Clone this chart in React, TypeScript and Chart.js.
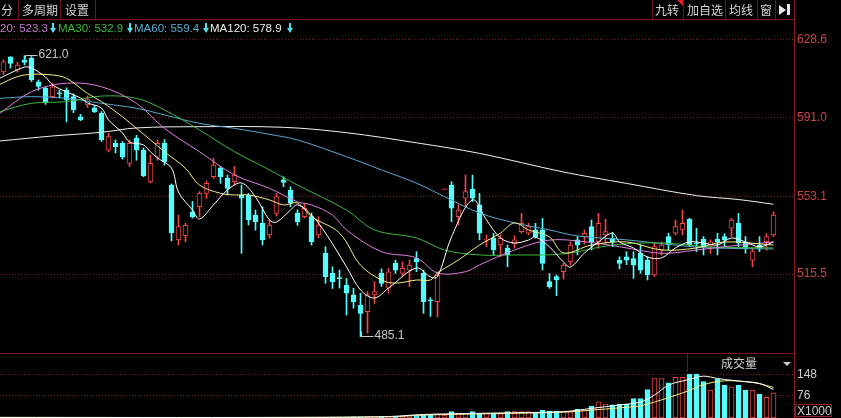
import React, { useEffect, useRef } from "react";
import { Chart, registerables } from "chart.js";
Chart.register(...registerables);

// ---------- data ----------
const openPrices = [
  613.2, 620.5, 614.1, 619.0, 619.8, 608.4, 605.4, 601.2, 603.0, 604.4,
  601.2, 591.5, 597.2, 595.8, 593.2, 575.4, 578.6, 578.7, 569.0, 581.2,
  575.4, 560.0, 572.0, 578.7, 558.5, 532.0, 534.0, 545.6, 548.1, 554.5,
  562.5, 566.6, 561.7, 560.1, 553.7, 553.7, 544.0, 540.0, 534.4, 544.8,
  561.0, 556.1, 544.8, 543.2, 543.2, 534.4, 525.5, 515.8, 513.8, 510.2,
  505.4, 500.5, 497.3, 505.4, 515.8, 508.6, 520.6, 515.8, 517.4, 523.0,
  515.8, 503.0, 502.1, 556.2, 558.5, 543.2, 552.1, 556.4, 548.9, 531.8,
  532.8, 529.5, 527.9, 530.0, 536.0, 535.2, 536.8, 536.8, 511.8, 514.2,
  516.6, 521.4, 532.0, 533.6, 538.4, 531.1, 534.4, 532.8, 522.2, 523.8,
  523.0, 525.5, 522.2, 515.0, 527.1, 533.6, 535.2, 536.8, 541.9, 530.4,
  532.3, 529.5, 532.3, 533.6, 537.6, 540.0, 531.1, 522.2, 529.5, 531.1,
  534.4,
];
const highPrices = [
  619.0, 620.5, 617.8, 621.0, 620.6, 609.3, 606.0, 607.8, 604.4, 605.5,
  602.6, 592.7, 601.5, 597.0, 594.0, 583.5, 580.3, 579.5, 580.3, 582.5,
  576.5, 573.0, 580.3, 580.5, 559.0, 544.0, 540.0, 550.5, 555.3, 560.5,
  571.4, 567.5, 563.3, 567.5, 558.5, 554.5, 546.4, 548.0, 541.6, 554.5,
  562.5, 557.7, 546.5, 549.7, 545.0, 543.2, 528.7, 519.0, 517.4, 513.4,
  508.6, 506.2, 507.0, 511.8, 518.0, 518.2, 522.2, 521.4, 522.2, 526.3,
  517.4, 504.0, 516.6, 556.6, 560.1, 549.0, 563.3, 563.3, 554.5, 534.4,
  535.2, 534.4, 529.5, 534.0, 544.8, 540.0, 540.0, 542.4, 515.8, 515.0,
  520.6, 531.0, 533.6, 536.8, 541.6, 544.8, 542.0, 535.5, 523.8, 526.3,
  526.3, 529.5, 523.8, 530.4, 531.1, 535.2, 541.6, 546.4, 542.5, 537.6,
  533.6, 532.0, 535.2, 535.0, 542.4, 544.8, 533.6, 527.9, 533.6, 535.0,
  545.6,
];
const lowPrices = [
  612.0, 615.0, 613.0, 616.5, 608.5, 604.4, 597.5, 600.5, 600.6, 589.0,
  593.5, 589.6, 596.0, 593.5, 579.5, 574.5, 574.0, 571.0, 567.4, 570.5,
  562.5, 559.5, 570.5, 568.2, 531.5, 529.5, 531.0, 542.5, 543.2, 552.0,
  561.7, 559.3, 553.7, 558.5, 525.5, 539.2, 536.7, 529.5, 532.8, 543.5,
  557.7, 548.0, 539.0, 542.5, 529.5, 533.0, 511.0, 508.5, 508.7, 495.7,
  499.0, 485.1, 487.0, 501.3, 509.5, 506.2, 515.8, 514.2, 509.4, 516.6,
  496.5, 495.0, 494.8, 556.2, 540.8, 539.2, 548.0, 550.5, 532.0, 528.7,
  524.7, 523.9, 519.0, 528.0, 535.2, 534.4, 532.8, 517.4, 508.6, 505.0,
  513.0, 519.8, 524.7, 530.0, 527.1, 527.9, 530.4, 528.7, 518.0, 520.0,
  513.4, 515.8, 512.6, 514.2, 524.7, 527.1, 534.4, 534.4, 528.7, 526.3,
  524.7, 525.5, 524.7, 528.7, 533.6, 528.7, 525.5, 519.0, 526.3, 527.0,
  533.6,
];
const closePrices = [
  618.1, 617.3, 616.5, 617.8, 609.3, 606.2, 598.2, 606.0, 602.6, 599.6,
  594.8, 590.0, 600.0, 594.0, 580.3, 581.9, 577.0, 572.0, 578.7, 575.4,
  563.0, 569.0, 578.7, 569.8, 535.3, 538.4, 539.0, 543.2, 554.5, 559.3,
  568.2, 562.5, 556.9, 563.3, 552.1, 541.6, 540.8, 532.0, 539.2, 552.9,
  559.8, 549.7, 540.8, 547.3, 531.1, 539.2, 514.2, 511.8, 513.2, 506.2,
  502.1, 496.5, 505.4, 507.0, 511.0, 516.6, 517.4, 518.2, 519.8, 521.4,
  502.1, 502.5, 514.9, 556.6, 547.3, 546.4, 555.3, 552.1, 535.2, 532.2,
  527.1, 532.8, 524.7, 532.0, 540.0, 538.4, 533.6, 520.6, 509.4, 512.6,
  519.8, 529.5, 529.5, 535.2, 531.1, 540.0, 536.0, 531.1, 520.6, 522.2,
  519.8, 517.4, 515.0, 528.7, 529.5, 529.5, 538.4, 540.0, 529.5, 530.0,
  528.7, 531.1, 531.1, 532.0, 541.6, 530.4, 527.9, 526.3, 527.9, 533.6,
  544.0,
];
const volumes = [
  1, 1, 1, 1, 2, 1, 1, 1, 1, 2,
  1, 1, 1, 1, 2, 1, 1, 2, 1, 1,
  2, 1, 1, 2, 2, 1, 1, 1, 2, 1,
  1, 2, 1, 1, 2, 2, 1, 2, 2, 1,
  2, 2, 2, 3, 2, 3, 2, 3, 3, 3,
  4, 4, 5, 4, 4, 5, 7, 6, 8, 7,
  10, 10, 14, 10, 22, 16, 16, 22, 14, 16,
  16, 14, 22, 22, 22, 22, 19, 27, 24, 24,
  22, 22, 30, 27, 41, 56, 48, 45, 48, 48,
  67, 67, 98, 136, 136, 121, 140, 140, 151, 151,
  125, 96, 133, 113, 107, 113, 96, 96, 82, 71,
  87,
];
const priceTickLabels = [628.6, 591.0, 553.1, 515.5];
const volumeTickLabels = [76, 148];

// moving average lines (candle index -> value)
const ma5X = [-0.5, 1, 3, 4, 6, 7, 9, 11, 12, 14, 15, 17, 18, 20, 21, 22, 24, 25, 27, 28, 30, 32, 34, 36, 38, 39, 41, 42, 44, 46, 49, 51, 53, 55, 59, 61, 62, 64, 67, 69, 71, 73, 75, 76, 78, 80, 81, 83, 85, 87, 88, 90, 92, 94, 96, 98, 100, 102, 104, 106, 108, 110];
const ma5Y = [610.2, 612.6, 615.5, 615.1, 610.7, 606.9, 603.5, 600.6, 598.2, 595.7, 590.0, 583.7, 579.3, 577.9, 574.5, 571.6, 566.7, 555.1, 546.4, 542.1, 548.9, 556.1, 559.5, 552.7, 541.6, 540.6, 546.4, 548.9, 544.0, 535.3, 519.0, 507.8, 503.9, 508.7, 518.4, 514.1, 514.1, 533.4, 551.3, 541.6, 532.9, 530.5, 531.9, 533.4, 528.6, 521.3, 518.9, 525.7, 531.0, 535.3, 531.0, 528.1, 523.7, 523.3, 528.1, 531.0, 530.5, 529.5, 532.9, 531.0, 528.6, 531.0];
const ma10X = [-0.5, 2, 4, 7, 9, 12, 14, 17, 19, 21, 23, 26, 28, 31, 33, 35, 38, 40, 42, 44, 48, 51, 54, 56, 59, 61, 62, 65, 68, 71, 73, 75, 78, 80, 84, 89, 94, 99, 103, 110];
const ma10Y = [607.2, 610.9, 612.0, 611.7, 610.1, 602.8, 598.8, 591.5, 585.9, 580.3, 574.6, 566.6, 558.5, 554.5, 553.7, 553.7, 551.3, 548.9, 549.8, 543.2, 535.3, 519.8, 512.6, 511.1, 512.6, 512.6, 516.0, 522.3, 529.5, 535.3, 540.2, 536.8, 533.4, 525.7, 529.5, 531.0, 527.1, 528.1, 531.0, 529.5];
const ma20X = [-0.5, 4, 9, 14, 19, 23, 28, 33, 38, 42, 44, 47, 49, 54, 59, 62, 66, 68, 73, 78, 83, 88, 94, 99, 103, 110];
const ma20Y = [593.2, 603.6, 607.7, 606.0, 598.0, 585.9, 574.6, 563.4, 556.9, 550.4, 548.9, 544.0, 536.8, 526.3, 523.3, 516.0, 516.6, 519.9, 527.1, 531.9, 531.1, 528.7, 525.5, 527.1, 528.7, 531.0];
const ma30X = [-0.5, 4, 9, 14, 19, 23, 28, 33, 38, 42, 49, 53, 59, 63, 68, 73, 80, 87, 94, 101, 110];
const ma30Y = [594.0, 598.0, 598.8, 601.5, 600.4, 594.8, 585.1, 574.6, 565.8, 558.5, 546.4, 536.8, 532.9, 527.1, 524.7, 524.7, 525.2, 529.5, 530.5, 528.6, 528.1];
const ma60X = [-0.5, 4, 9, 14, 19, 23, 28, 33, 38, 42, 49, 54, 59, 63, 68, 73, 78, 82, 89, 99, 105, 110];
const ma60Y = [600.4, 601.2, 600.4, 598.0, 595.6, 592.4, 588.3, 585.9, 583.0, 580.3, 572.2, 565.8, 559.4, 552.9, 545.0, 540.2, 536.8, 533.9, 532.0, 528.5, 527.8, 527.6];
const ma120X = [-0.5, 7, 14, 19, 28, 40, 49, 59, 68, 80, 89, 99, 105, 110];
const ma120Y = [579.8, 582.2, 584.0, 586.1, 586.7, 586.4, 583.8, 578.9, 573.8, 564.8, 559.3, 553.4, 551.5, 549.2];
const volMa5X = [-0.5, 40, 55, 60, 70, 80, 84, 88, 91, 93, 95, 98, 100, 102, 104, 106, 108, 110];
const volMa5Y = [2, 2, 5, 12, 17, 22, 33, 45, 55, 79, 113, 133, 144, 136, 130, 125, 119, 98];
const volMa10X = [-0.5, 40, 55, 60, 70, 80, 84, 88, 91, 93, 95, 98, 100, 103, 106, 108, 110];
const volMa10Y = [2, 2, 4, 10, 15, 20, 27, 35, 42, 55, 70, 95, 115, 128, 125, 118, 105];

// ---------- styling ----------
const RED = "#f04646";
const CYAN = "#54fcfc";
const X_MIN = -0.5;
const X_MAX = 112.9286;
const TICK_FONT = { size: 12, family: '"Liberation Sans", Arial, sans-serif' };
const candleIndex = openPrices.map((_, i) => i);
const isUp = candleIndex.map((i) => closePrices[i] >= openPrices[i]);

const pts = (xs: number[], ys: number[]) => xs.map((x, i) => ({ x, y: ys[i] }));

const lineDs = (label: string, xs: number[], ys: number[], color: string, order: number) => ({
  type: "line" as const,
  label,
  data: pts(xs, ys),
  borderColor: color,
  borderWidth: 1,
  pointRadius: 0,
  tension: 0.35,
  fill: false,
  order,
});

const extremesPlugin = {
  id: "extremes",
  afterDatasetsDraw(chart: any) {
    const { ctx, scales } = chart;
    const x = scales.x;
    const y = scales.y;
    let hi = 0;
    let lo = 0;
    highPrices.forEach((h, i) => { if (h > highPrices[hi]) hi = i; });
    lowPrices.forEach((l, i) => { if (l < lowPrices[lo]) lo = i; });
    ctx.save();
    ctx.strokeStyle = "#c8c8c8";
    ctx.fillStyle = "#c8c8c8";
    ctx.lineWidth = 1;
    ctx.font = '12px "Liberation Sans", Arial, sans-serif';
    ctx.textBaseline = "middle";
    const hx = Math.round(x.getPixelForValue(hi)) + 1.5;
    const hy = Math.round(y.getPixelForValue(highPrices[hi])) - 0.5;
    ctx.beginPath();
    ctx.moveTo(hx, hy + 3);
    ctx.lineTo(hx, hy);
    ctx.lineTo(hx + 12, hy);
    ctx.stroke();
    ctx.fillText(highPrices[hi].toFixed(1), hx + 13, hy - 1);
    const lx = Math.round(x.getPixelForValue(lo)) + 1.5;
    const ly = Math.round(y.getPixelForValue(lowPrices[lo])) - 0.5;
    ctx.beginPath();
    ctx.moveTo(lx, ly - 5);
    ctx.lineTo(lx, ly);
    ctx.lineTo(lx + 12, ly);
    ctx.stroke();
    ctx.fillText(lowPrices[lo].toFixed(1), lx + 13, ly - 1);
    ctx.restore();
  },
};

function priceConfig(): any {
  return {
    type: "bar",
    data: {
      datasets: [
        {
          label: "wick",
          data: candleIndex.map((i) => ({ x: i, y: [lowPrices[i], highPrices[i]] })),
          backgroundColor: isUp.map((u) => (u ? RED : CYAN)),
          borderWidth: 0,
          barThickness: 1,
          grouped: false,
          order: 10,
        },
        {
          label: "body",
          data: candleIndex.map((i) => ({ x: i, y: [openPrices[i], closePrices[i]] })),
          backgroundColor: isUp.map((u) => (u ? "#000000" : CYAN)),
          borderColor: isUp.map((u) => (u ? RED : CYAN)),
          borderWidth: 1,
          borderSkipped: false,
          barThickness: 5,
          minBarLength: 1,
          grouped: false,
          order: 9,
        },
        lineDs("MA120", ma120X, ma120Y, "#f2f2f2", 6),
        lineDs("MA60", ma60X, ma60Y, "#58a8d0", 5),
        lineDs("MA30", ma30X, ma30Y, "#3cb83c", 4),
        lineDs("MA20", ma20X, ma20Y, "#e07ee0", 3),
        lineDs("MA10", ma10X, ma10Y, "#f4f088", 2),
        lineDs("MA5", ma5X, ma5Y, "#ffffff", 1),
      ],
    },
    options: {
      animation: false,
      responsive: false,
      devicePixelRatio: 1,
      events: [],
      layout: { padding: 0 },
      plugins: { legend: { display: false }, tooltip: { enabled: false } },
      scales: {
        x: { type: "linear", min: X_MIN, max: X_MAX, display: false, offset: false },
        y: {
          position: "right",
          min: 477.32,
          max: 647.93,
          afterBuildTicks: (s: any) => { s.ticks = priceTickLabels.map((v) => ({ value: v })); },
          afterFit: (s: any) => { s.width = 47; s.paddingTop = 0; s.paddingBottom = 0; },
          ticks: { color: "#c84646", font: TICK_FONT, padding: 3, callback: (v: any) => Number(v).toFixed(1) },
          grid: { color: "rgba(150,32,32,0.8)", drawTicks: false, lineWidth: 1 },
          border: { display: true, color: "#8e1c1c", width: 1, dash: [1, 2] },
        },
      },
    },
    plugins: [extremesPlugin],
  };
}

function volumeConfig(): any {
  return {
    type: "bar",
    data: {
      datasets: [
        {
          label: "成交量",
          data: candleIndex.map((i) => ({ x: i, y: volumes[i] })),
          backgroundColor: isUp.map((u) => (u ? "#000000" : CYAN)),
          borderColor: isUp.map((u) => (u ? RED : CYAN)),
          borderWidth: 1,
          borderSkipped: false,
          barThickness: 5,
          grouped: false,
          order: 5,
        },
        lineDs("VMA10", volMa10X, volMa10Y, "#f4f088", 2),
        lineDs("VMA5", volMa5X, volMa5Y, "#ffffff", 1),
      ],
    },
    options: {
      animation: false,
      responsive: false,
      devicePixelRatio: 1,
      events: [],
      layout: { padding: 0 },
      plugins: { legend: { display: false }, tooltip: { enabled: false } },
      scales: {
        x: { type: "linear", min: X_MIN, max: X_MAX, display: false, offset: false },
        y: {
          position: "right",
          min: 0,
          max: 223.7,
          afterBuildTicks: (s: any) => { s.ticks = volumeTickLabels.map((v) => ({ value: v })); },
          afterFit: (s: any) => { s.width = 47; s.paddingTop = 0; s.paddingBottom = 0; },
          ticks: { color: "#cfcfcf", font: TICK_FONT, padding: 3 },
          grid: { color: "rgba(150,32,32,0.8)", drawTicks: false, lineWidth: 1 },
          border: { display: true, color: "#8e1c1c", width: 1, dash: [1, 2] },
        },
      },
    },
  };
}

// ---------- overlays ----------
const CJK = '"Noto Sans CJK SC", "Noto Sans", sans-serif';
const LAT = '"Liberation Sans", Arial, sans-serif';
const SEP = "#6e1414";

const VLine = ({ left, top, height }: { left: number; top: number; height: number }) => (
  <div style={{ position: "absolute", left, top, width: 1, height, background: SEP }} />
);

const ToolText = ({ left, text }: { left: number; text: string }) => (
  <div style={{ position: "absolute", left, top: 0, height: 19, lineHeight: "19px", fontSize: 12, color: "#d4d4d4", fontFamily: CJK, whiteSpace: "nowrap" }}>{text}</div>
);

const DownArrow = ({ left }: { left: number }) => (
  <div style={{ position: "absolute", left, top: 23, width: 7, height: 11 }}>
    <div style={{ position: "absolute", left: 2, top: 0, width: 2, height: 6, background: "#4fe4ec" }} />
    <div style={{ position: "absolute", left: -0.5, top: 5, width: 0, height: 0, borderLeft: "3.5px solid transparent", borderRight: "3.5px solid transparent", borderTop: "5px solid #4fe4ec" }} />
  </div>
);

const MaText = ({ left, text, color }: { left: number; text: string; color: string }) => (
  <div style={{ position: "absolute", left, top: 20, height: 16, lineHeight: "16px", fontSize: 11.5, color, fontFamily: LAT, whiteSpace: "nowrap" }}>{text}</div>
);

export default function App() {
  const priceRef = useRef<HTMLCanvasElement>(null);
  const volRef = useRef<HTMLCanvasElement>(null);

  useEffect(() => {
    document.body.style.margin = "0";
    document.body.style.background = "#000";
    const pc = new Chart(priceRef.current as HTMLCanvasElement, priceConfig());
    const vc = new Chart(volRef.current as HTMLCanvasElement, volumeConfig());
    return () => {
      pc.destroy();
      vc.destroy();
    };
  }, []);

  return (
    <div style={{ position: "relative", width: 841, height: 418, background: "#000", overflow: "hidden" }}>
      <canvas ref={priceRef} width={841} height={353} style={{ position: "absolute", left: 0, top: 0 }} />
      <canvas ref={volRef} width={841} height={65} style={{ position: "absolute", left: 0, top: 353 }} />

      {/* toolbar */}
      <div style={{ position: "absolute", left: 0, top: 19, width: 796, height: 1, background: "#7a1616" }} />
      <VLine left={18} top={0} height={19} />
      <VLine left={60} top={0} height={19} />
      <VLine left={95} top={0} height={19} />
      <ToolText left={1} text="分" />
      <ToolText left={22} text="多周期" />
      <ToolText left={65} text="设置" />
      <VLine left={652} top={0} height={19} />
      <VLine left={683} top={0} height={19} />
      <VLine left={725} top={0} height={19} />
      <VLine left={757} top={0} height={19} />
      <VLine left={775} top={0} height={19} />
      <ToolText left={655} text="九转" />
      <div style={{ position: "absolute", left: 677, top: 0, width: 0, height: 0, borderTop: "6px solid #e82020", borderLeft: "6px solid transparent" }} />
      <ToolText left={687} text="加自选" />
      <ToolText left={729} text="均线" />
      <ToolText left={760} text="窗" />
      <div style={{ position: "absolute", left: 779, top: 5, width: 0, height: 0, borderLeft: "7px solid #e6e6e6", borderTop: "5px solid transparent", borderBottom: "5px solid transparent" }} />
      <div style={{ position: "absolute", left: 787, top: 4, width: 3, height: 11, background: "#e6e6e6" }} />

      {/* MA legend */}
      <MaText left={0} text="20: 523.3" color="#c87ac8" />
      <DownArrow left={50} />
      <MaText left={58} text="MA30: 532.9" color="#38b838" />
      <DownArrow left={127} />
      <MaText left={134} text="MA60: 559.4" color="#5ab0d4" />
      <DownArrow left={203} />
      <MaText left={210} text="MA120: 578.9" color="#eeeee6" />
      <DownArrow left={287} />

      {/* volume panel decorations */}
      <div style={{ position: "absolute", left: 0, top: 353, width: 796, height: 1, background: "#7a1616" }} />
      <VLine left={687} top={353} height={19} />
      <div style={{ position: "absolute", left: 721, top: 355, height: 16, lineHeight: "16px", fontSize: 12, color: "#cfcfcf", fontFamily: CJK }}>成交量</div>
      <div style={{ position: "absolute", left: 783, top: 362, width: 0, height: 0, borderTop: "4px solid #d0d0d0", borderLeft: "4px solid transparent", borderRight: "4px solid transparent" }} />
      <div style={{ position: "absolute", left: 795, top: 404, width: 37, height: 13, border: "1px solid #8e1c1c", boxSizing: "border-box", fontSize: 12, lineHeight: "12px", color: "#cfcfcf", fontFamily: LAT, paddingLeft: 1 }}>X1000</div>
    </div>
  );
}
